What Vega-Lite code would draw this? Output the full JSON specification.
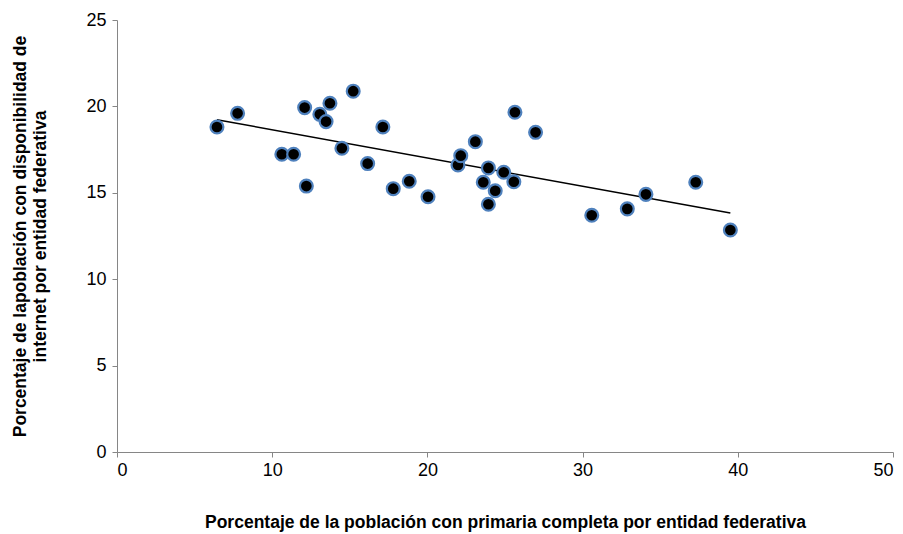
{
  "$schema": "https://vega.github.io/schema/vega-lite/v6.json",
  "width": 776,
  "height": 432,
  "autosize": "none",
  "padding": {"left": 117, "top": 20, "right": 10, "bottom": 82},
  "background": "white",
  "config": {
    "view": {"stroke": null},
    "font": "Liberation Sans",
    "axis": {
      "grid": false,
      "domainColor": "#868686",
      "tickColor": "#868686",
      "tickSize": 5,
      "labelFontSize": 18,
      "labelColor": "#000000",
      "labelFont": "Liberation Sans",
      "titleFont": "Liberation Sans",
      "titleFontSize": 17.5,
      "titleFontWeight": "bold",
      "titleColor": "#000000"
    }
  },
  "data": {
    "values": [
      {"x": 6.44, "y": 18.81},
      {"x": 7.77, "y": 19.6},
      {"x": 10.62, "y": 17.23},
      {"x": 11.38, "y": 17.23},
      {"x": 12.09, "y": 19.93},
      {"x": 12.2, "y": 15.39},
      {"x": 13.07, "y": 19.54},
      {"x": 13.47, "y": 19.12},
      {"x": 13.72, "y": 20.18},
      {"x": 14.49, "y": 17.58},
      {"x": 15.22, "y": 20.88},
      {"x": 16.15, "y": 16.69},
      {"x": 17.13, "y": 18.81},
      {"x": 17.8, "y": 15.24},
      {"x": 18.83, "y": 15.67},
      {"x": 20.04, "y": 14.77},
      {"x": 21.97, "y": 16.61},
      {"x": 22.15, "y": 17.15},
      {"x": 23.09, "y": 17.96},
      {"x": 23.6, "y": 15.61},
      {"x": 23.93, "y": 16.44},
      {"x": 23.93, "y": 14.34},
      {"x": 24.37, "y": 15.12},
      {"x": 24.92, "y": 16.19},
      {"x": 25.57, "y": 15.64},
      {"x": 25.64, "y": 19.66},
      {"x": 26.97, "y": 18.5},
      {"x": 30.59, "y": 13.7},
      {"x": 32.88, "y": 14.07},
      {"x": 34.08, "y": 14.91},
      {"x": 37.29, "y": 15.61},
      {"x": 39.52, "y": 12.85}
    ]
  },
  "layer": [
    {
      "transform": [{"regression": "y", "on": "x"}],
      "mark": {"type": "line", "color": "#000000", "strokeWidth": 1.5},
      "encoding": {
        "x": {"field": "x", "type": "quantitative"},
        "y": {"field": "y", "type": "quantitative"}
      }
    },
    {
      "mark": {"type": "point", "filled": true, "fill": "#000000", "stroke": "#4F81BD", "strokeWidth": 2.2, "size": 165, "opacity": 1},
      "encoding": {
        "x": {
          "field": "x",
          "type": "quantitative",
          "scale": {"domain": [0, 50], "nice": false},
          "axis": {
            "values": [0, 10, 20, 30, 40, 50],
            "title": "Porcentaje de la población con primaria completa por entidad federativa",
            "labelPadding": 4,
            "titlePadding": 34
          }
        },
        "y": {
          "field": "y",
          "type": "quantitative",
          "scale": {"domain": [0, 25], "nice": false},
          "axis": {
            "values": [0, 5, 10, 15, 20, 25],
            "title": ["Porcentaje de lapoblación con disponibilidad de", "internet por entidad federativa"],
            "titleLineHeight": 20,
            "labelPadding": 6,
            "titlePadding": 36
          }
        }
      }
    }
  ]
}
